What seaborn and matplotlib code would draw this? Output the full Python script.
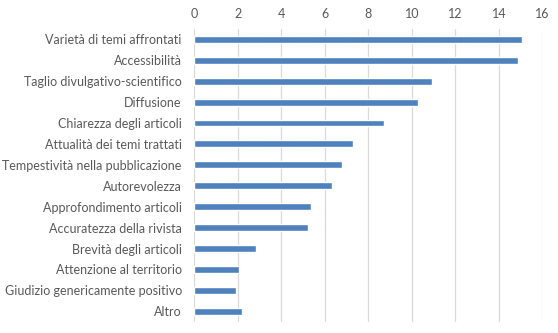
import matplotlib
matplotlib.use("Agg")
import matplotlib.pyplot as plt
import seaborn as sns
import pandas as pd

categories = [
    "Varietà di temi affrontati",
    "Accessibilità",
    "Taglio divulgativo-scientifico",
    "Diffusione",
    "Chiarezza degli articoli",
    "Attualità dei temi trattati",
    "Tempestività nella pubblicazione",
    "Autorevolezza",
    "Approfondimento articoli",
    "Accuratezza della rivista",
    "Brevità degli articoli",
    "Attenzione al territorio",
    "Giudizio genericamente positivo",
    "Altro",
]
values = [15.05, 14.87, 10.91, 10.27, 8.71, 7.29, 6.79, 6.33, 5.37, 5.23, 2.84, 2.06, 1.92, 2.19]
x_ticks = [0, 2, 4, 6, 8, 10, 12, 14, 16]

sns.set_theme(style="white")
plt.rcParams["font.family"] = ["Lato", "DejaVu Sans"]

df = pd.DataFrame({"categoria": categories, "valore": values})

fig = plt.figure(figsize=(5.58, 3.33), dpi=100)
ax = fig.add_axes([0.3482, 0.0336, 0.6237, 0.8799])

sns.barplot(data=df, x="valore", y="categoria", orient="h",
            color="#4F81BD", saturation=1, width=0.33, ax=ax)

ax.set_xlim(0, 16)
ax.set_xticks(x_ticks)
ax.set_xticklabels([str(t) for t in x_ticks])
ax.xaxis.tick_top()
ax.grid(axis="x", color="#D9D9D9", linewidth=0.9)
ax.set_axisbelow(True)
for s in ax.spines.values():
    s.set_visible(False)
ax.tick_params(axis="x", length=0, pad=6, labelsize=9, labelcolor="#595959")
ax.tick_params(axis="y", length=0, pad=9, labelsize=9, labelcolor="#595959")
ax.set_xlabel("")
ax.set_ylabel("")

fig.savefig("out.png", dpi=100)
